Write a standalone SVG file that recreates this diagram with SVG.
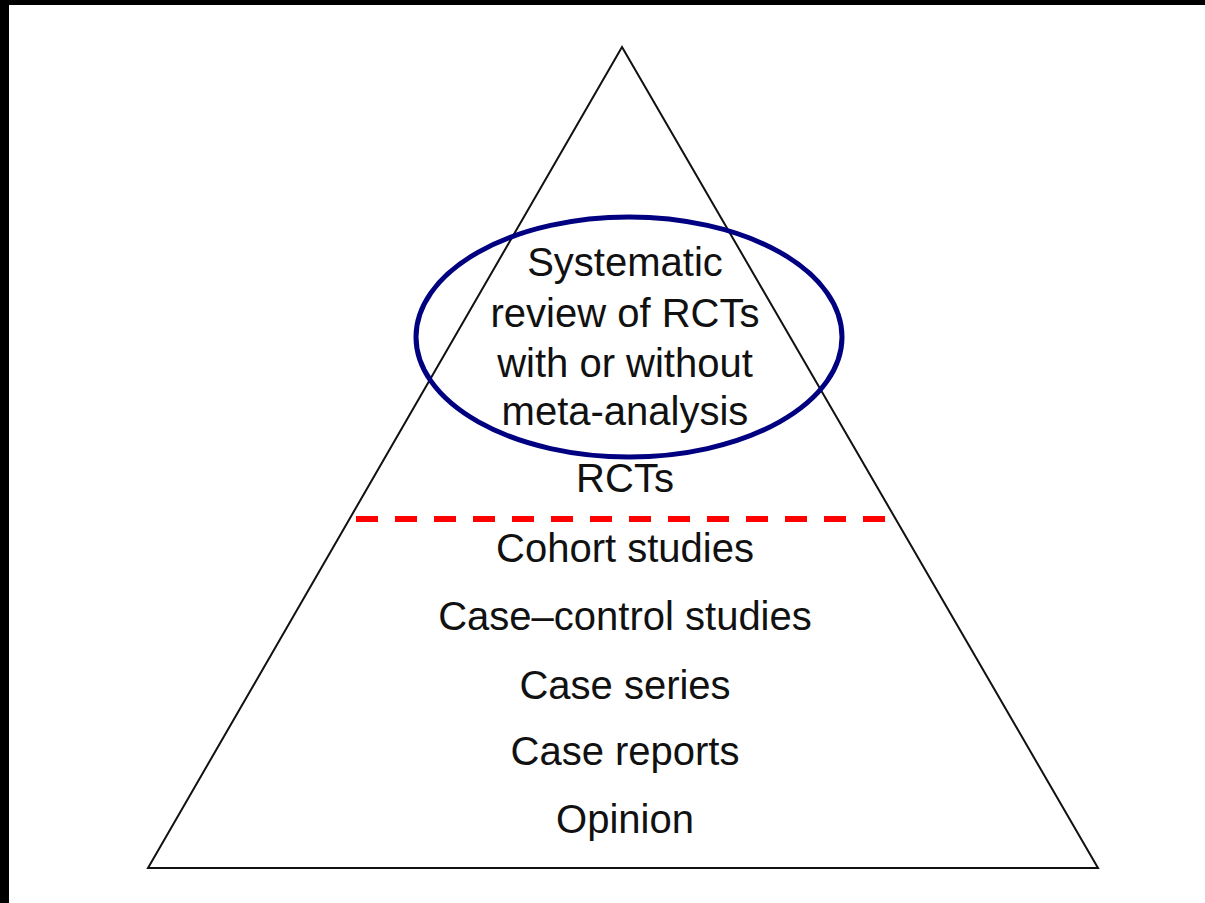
<svg xmlns="http://www.w3.org/2000/svg" width="1205" height="903" viewBox="0 0 1205 903">
<style>
  .lbl { font-family: "Liberation Sans", Arial, sans-serif; font-size: 40px; fill: #111; text-anchor: middle; }
</style>
<rect x="0" y="0" width="1205" height="903" fill="#ffffff"/>
<rect x="0" y="0" width="1205" height="5" fill="#000"/>
<rect x="0" y="0" width="9" height="903" fill="#000"/>
<g id="pyramid">
  <polygon points="622,47 148,868 1098,868" fill="none" stroke="#111" stroke-width="2" stroke-linejoin="miter"/>
</g>
<g id="connectors">
  <line x1="356" y1="519" x2="888" y2="519" stroke="#ff0000" stroke-width="6" stroke-dasharray="22 17"/>
</g>
<g id="highlight">
  <ellipse cx="629" cy="337" rx="213" ry="120" fill="none" stroke="#000080" stroke-width="5"/>
</g>
<g id="labels">
  <g id="node-systematic">
    <text class="lbl" x="625" y="276">Systematic</text>
    <text class="lbl" x="625" y="327">review of RCTs</text>
    <text class="lbl" x="625" y="377">with or without</text>
    <text class="lbl" x="625" y="425">meta-analysis</text>
  </g>
  <g id="node-rcts"><text class="lbl" x="625" y="492">RCTs</text></g>
  <g id="node-cohort"><text class="lbl" x="625" y="562">Cohort studies</text></g>
  <g id="node-casecontrol"><text class="lbl" x="625" y="630">Case–control studies</text></g>
  <g id="node-caseseries"><text class="lbl" x="625" y="699">Case series</text></g>
  <g id="node-casereports"><text class="lbl" x="625" y="765">Case reports</text></g>
  <g id="node-opinion"><text class="lbl" x="625" y="833">Opinion</text></g>
</g>
</svg>
